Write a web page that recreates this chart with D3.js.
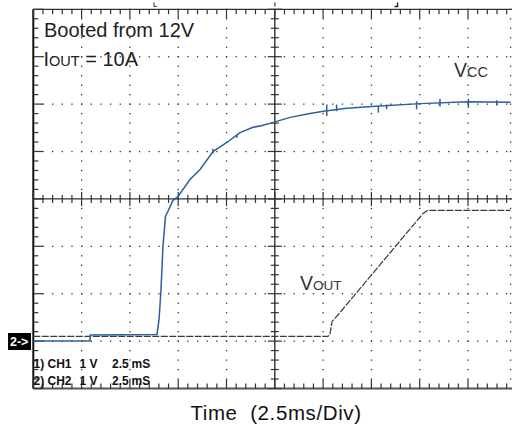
<!DOCTYPE html>
<html><head><meta charset="utf-8">
<script src="https://cdn.jsdelivr.net/npm/d3@7"></script>
<style>html,body{margin:0;padding:0;background:#fff;} svg{display:block;font-family:"Liberation Sans",Arial,Helvetica,sans-serif;}</style>
</head><body><div id="chart"></div>
<script>
// ---- data (time in ms, voltage in divisions (1 V/div) relative to CH2 reference) ----
const vccTime = [0, 2.93, 2.95, 6.40, 6.51, 6.61, 6.71, 6.84, 6.97, 7.23, 7.49, 8.11, 8.63, 9.30, 10.02, 10.70, 11.37, 11.84, 12.47, 13.29, 14.32, 15.01, 16.24, 17.52, 20.02, 22.50, 24.70];
const vccValue = [0.0, 0.0, 0.13, 0.14, 0.46, 1.09, 1.99, 2.63, 2.74, 2.97, 3.05, 3.41, 3.62, 4.00, 4.19, 4.40, 4.51, 4.55, 4.62, 4.72, 4.80, 4.85, 4.91, 4.95, 5.01, 5.05, 5.04];
const vccSpikeTime = [9.30, 10.54, 15.19, 15.70, 17.86, 18.29, 19.84, 21.05, 22.52, 23.99];
const vccSpikeLow = [3.96, 4.29, 4.75, 4.85, 4.82, 4.89, 4.89, 4.95, 4.92, 4.97];
const vccSpikeHigh = [4.06, 4.36, 4.99, 4.99, 4.96, 4.99, 5.06, 5.11, 5.11, 5.08];
const voutTime = [0, 15.25, 15.35, 15.47, 15.66, 20.19, 20.43, 24.70];
const voutValue = [0.10, 0.10, 0.14, 0.42, 0.50, 2.70, 2.76, 2.76];
const xMajorTicks = [0, 2.5, 5, 7.5, 10, 12.5, 15, 17.5, 20, 22.5];
const yMajorTicks = [-1, 0, 1, 2, 3, 4, 5, 6, 7];
const xLabel = "Time  (2.5ms/Div)";
const chLine1 = ["1) CH1", "1", "V", "2.5", "mS"];
const chLine2 = ["2) CH2", "1", "V", "2.5", "mS"];

const W = 512, H = 430;
const svg = d3.select("#chart").append("svg").attr("width", W).attr("height", H);
svg.append("rect").attr("width", W).attr("height", H).attr("fill", "#fff");

const x = d3.scaleLinear().domain([0, 25]).range([33.3, 516.3]);
const y = d3.scaleLinear().domain([-1, 7]).range([388.5, 9.3]);
const xEnd = 24.7;
const gridCol = "#333";

const g = svg.append("g");
// dotted grid
const xMinor = d3.range(0, xEnd, 0.5);
const yMinor = d3.range(-1, 7.001, 0.2);
const vGrid = xMajorTicks.filter(t => t !== 0 && t !== 12.5).concat([xEnd]);
const hGrid = yMajorTicks.filter(t => t !== -1 && t !== 7 && t !== 3);
vGrid.forEach(t => {
  yMinor.forEach(v => g.append("rect").attr("x", x(t) - 0.6).attr("y", y(v) - 0.6).attr("width", 1.3).attr("height", 1.3).attr("fill", gridCol));
});
hGrid.forEach(v => {
  xMinor.forEach(t => g.append("rect").attr("x", x(t) - 0.6).attr("y", y(v) - 0.6).attr("width", 1.3).attr("height", 1.3).attr("fill", gridCol));
});

// frame
g.append("line").attr("x1", x(0)).attr("x2", W).attr("y1", y(7)).attr("y2", y(7)).attr("stroke", "#333").attr("stroke-width", 1.3);
g.append("line").attr("x1", x(0)).attr("x2", W).attr("y1", y(-1)).attr("y2", y(-1)).attr("stroke", "#555").attr("stroke-width", 2);
g.append("line").attr("x1", x(0)).attr("x2", x(0)).attr("y1", y(7)).attr("y2", y(-1)).attr("stroke", "#111").attr("stroke-width", 2);
// centre cross
g.append("line").attr("x1", x(12.5)).attr("x2", x(12.5)).attr("y1", y(7)).attr("y2", y(-1)).attr("stroke", "#333").attr("stroke-width", 1.4);
g.append("line").attr("x1", x(0)).attr("x2", W).attr("y1", y(3)).attr("y2", y(3)).attr("stroke", "#333").attr("stroke-width", 1.4);

const isMajX = t => Math.abs(t / 2.5 - Math.round(t / 2.5)) < 1e-6;
const isMajY = v => Math.abs(v - Math.round(v)) < 1e-6;
// top / bottom / centre-horizontal ticks
xMinor.forEach(t => {
  const L = isMajX(t) ? 9 : 5;
  g.append("line").attr("x1", x(t)).attr("x2", x(t)).attr("y1", y(7)).attr("y2", y(7) + L).attr("stroke", "#333").attr("stroke-width", 1.2);
  g.append("line").attr("x1", x(t)).attr("x2", x(t)).attr("y1", y(-1)).attr("y2", y(-1) - L).attr("stroke", "#333").attr("stroke-width", 1.2);
  const c = isMajX(t) ? 7 : 4;
  g.append("line").attr("x1", x(t)).attr("x2", x(t)).attr("y1", y(3) - c).attr("y2", y(3) + c).attr("stroke", "#333").attr("stroke-width", 1.2);
});
// left / centre-vertical ticks
yMinor.forEach(v => {
  const L = isMajY(v) ? 10 : 5;
  g.append("line").attr("x1", x(0)).attr("x2", x(0) + L).attr("y1", y(v)).attr("y2", y(v)).attr("stroke", "#333").attr("stroke-width", 1.2);
  const c = isMajY(v) ? 7 : 4;
  g.append("line").attr("x1", x(12.5) - c).attr("x2", x(12.5) + c).attr("y1", y(v)).attr("y2", y(v)).attr("stroke", "#333").attr("stroke-width", 1.2);
});

// top markers
svg.append("rect").attr("x", x(12.5) - 0.8).attr("y", 2.5).attr("width", 1.6).attr("height", 4).attr("fill", "#4a7ab5");
svg.append("path").attr("d", `M${x(6.25)},2.5 V6.5 H${x(6.25) + 3}`).attr("stroke", "#2d4f80").attr("fill", "none").attr("stroke-width", 1.2);
svg.append("path").attr("d", `M${x(18.75) + 2},2.5 V6.5 H${x(18.75) - 1}`).attr("stroke", "#222").attr("fill", "none").attr("stroke-width", 1.4);

// traces
const line = d3.line().x(d => x(d[0])).y(d => y(d[1]));
const voutData = voutTime.map((t, i) => [t, voutValue[i]]);
const vccData = vccTime.map((t, i) => [t, vccValue[i]]);
svg.append("path").attr("d", line(voutData)).attr("fill", "none").attr("stroke", "#3a3a3a").attr("stroke-width", 1.2).attr("stroke-dasharray", "7,1.5");
svg.append("path").attr("d", line(vccData)).attr("fill", "none").attr("stroke", "#2d5f9c").attr("stroke-width", 1.5);
vccSpikeTime.forEach((t, i) => {
  svg.append("line").attr("x1", x(t)).attr("x2", x(t)).attr("y1", y(vccSpikeLow[i])).attr("y2", y(vccSpikeHigh[i])).attr("stroke", "#2d5f9c").attr("stroke-width", 1.5);
});

// annotations
const txt = "#222";
svg.append("text").attr("x", 44).attr("y", 36.5).attr("font-size", 20).attr("fill", txt).text("Booted from 12V");
const t2 = svg.append("text").attr("x", 43.5).attr("y", 65.5).attr("font-size", 20).attr("fill", txt);
t2.append("tspan").text("I");
t2.append("tspan").attr("font-size", 14.5).text("OUT");
t2.append("tspan").text(" = 10A");
const t3 = svg.append("text").attr("x", 454).attr("y", 76.5).attr("font-size", 19.5).attr("fill", "#333");
t3.append("tspan").text("V");
t3.append("tspan").attr("font-size", 14.5).text("CC");
const t4 = svg.append("text").attr("x", 300).attr("y", 290).attr("font-size", 19.5).attr("fill", "#333");
t4.append("tspan").text("V");
t4.append("tspan").attr("font-size", 13.5).text("OUT");

// channel marker
svg.append("rect").attr("x", 8).attr("y", 333).attr("width", 23).attr("height", 17).attr("fill", "#000");
svg.append("text").attr("x", 10).attr("y", 346).attr("font-size", 12.5).attr("font-weight", "bold").attr("fill", "#fff").text("2->");

// channel settings
const chX = [33.5, 79.5, 89.5, 112, 131.5];
[[chLine1, 368], [chLine2, 385]].forEach(([arr, by]) => {
  arr.forEach((s, i) => svg.append("text").attr("x", chX[i]).attr("y", by).attr("font-size", 12).attr("font-weight", "bold").attr("fill", "#111").text(s));
});

// axis title
svg.append("text").attr("x", 276).attr("y", 419.5).attr("text-anchor", "middle").attr("font-size", 20.5).attr("letter-spacing", 0.6).attr("fill", "#111").style("white-space", "pre").text(xLabel);
</script>
</body></html>
